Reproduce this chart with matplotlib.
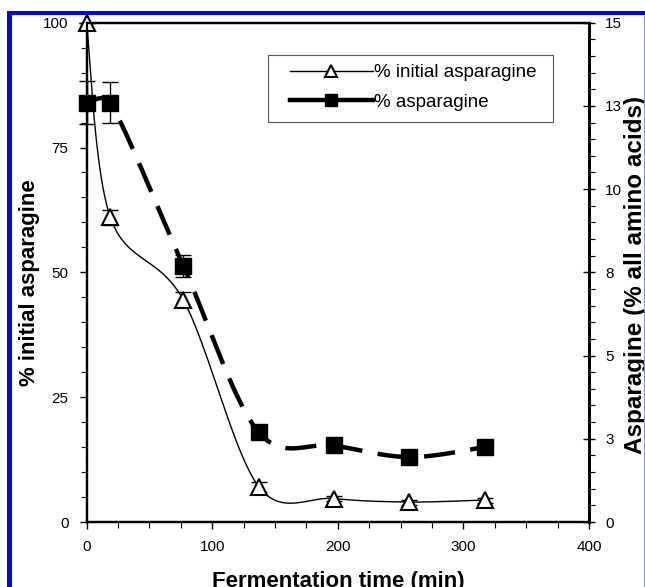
import numpy as np
import matplotlib.pyplot as plt
from matplotlib.lines import Line2D
from matplotlib.patches import Rectangle
from matplotlib.ticker import MultipleLocator, FixedLocator, FixedFormatter

plt.rcParams['font.family'] = ['Liberation Sans', 'DejaVu Sans']

# sampling times during fermentation (min)
time_min = [0, 19, 77, 137, 197, 257, 317]

# asparagine remaining, % of the initial amount (left axis)
initial_pct = [100, 61.0, 44.5, 7.1, 4.7, 4.0, 4.4]
initial_err = [0, 1.5, 1.5, 1.0, 0.5, 0.5, 0.5]

# asparagine as % of all amino acids (right axis)
asn_pct = [12.6, 12.6, 7.7, 2.7, 2.3, 1.95, 2.25]
asn_err = [0.65, 0.62, 0.33, 0.2, 0.15, 0.15, 0.15]

x_ticks = [0, 100, 200, 300, 400]
left_ticks = [0, 25, 50, 75, 100]
right_ticks = [0, 2.5, 5, 7.5, 10, 12.5, 15]
right_tick_labels = ['0', '3', '5', '8', '10', '13', '15']

labels = ['% initial asparagine', '% asparagine']


def smooth(axis, x, y, n=40):
    """Smoothed line through every point: cubic Bezier, tension 1/6,
    control arms capped at half the segment length (worked in screen space)."""
    p = axis.transData.transform(np.column_stack([x, y]).astype(float))
    ext = np.vstack([p[0], p, p[-1]])
    t = np.linspace(0, 1, n)[:, None]
    out = []
    for i in range(len(p) - 1):
        p0, p1, p2, p3 = ext[i], ext[i + 1], ext[i + 2], ext[i + 3]
        d12 = np.hypot(*(p2 - p1))
        d02 = np.hypot(*(p2 - p0))
        d13 = np.hypot(*(p3 - p1))
        f1 = 1 / 6 if d02 / 6 < d12 / 2 else d12 / d02 / 2
        f2 = 1 / 6 if d13 / 6 < d12 / 2 else d12 / d13 / 2
        c1 = p1 + f1 * (p2 - p0)
        c2 = p2 - f2 * (p3 - p1)
        seg = (1 - t) ** 3 * p1 + 3 * (1 - t) ** 2 * t * c1 + 3 * (1 - t) * t ** 2 * c2 + t ** 3 * p2
        out.append(seg if i == 0 else seg[1:])
    out = axis.transData.inverted().transform(np.vstack(out))
    return out[:, 0], out[:, 1]


W, H = 645, 587
fig = plt.figure(figsize=(W / 100, H / 100), dpi=100)
ax = fig.add_axes([86.5 / W, 65 / H, (589 - 86.5) / W, (522 - 22.7) / H])
ax2 = ax.twinx()

ax.set_xlim(0, 400)
ax.set_ylim(0, 100)
ax2.set_ylim(0, 15)

# % initial asparagine: thin smoothed line, open triangles
sx, sy = smooth(ax, time_min, initial_pct)
ax.plot(sx, sy, color='black', lw=1.0, clip_on=False, zorder=2)
ax.errorbar(time_min, initial_pct, yerr=initial_err, fmt='none', ecolor='black',
            elinewidth=1, capsize=6, capthick=1, clip_on=False, zorder=3)
ax.plot(time_min, initial_pct, ls='none', marker='^', ms=12, mfc='white',
        mec='black', mew=1.5, clip_on=False, zorder=4)

# % asparagine: thick dashed smoothed line, filled squares
qx, qy = smooth(ax2, time_min, asn_pct)
ax2.plot(qx, qy, color='black', lw=3.2, dashes=(7, 3.5), clip_on=False, zorder=2)
ax2.errorbar(time_min, asn_pct, yerr=asn_err, fmt='none', ecolor='black',
             elinewidth=1, capsize=6, capthick=1, clip_on=False, zorder=3)
ax2.plot(time_min, asn_pct, ls='none', marker='s', ms=12, mfc='black',
         mec='black', clip_on=False, zorder=4)

ax.xaxis.set_major_locator(FixedLocator(x_ticks))
ax.xaxis.set_minor_locator(MultipleLocator(25))
ax.yaxis.set_major_locator(FixedLocator(left_ticks))
ax.yaxis.set_minor_locator(MultipleLocator(5))
ax2.yaxis.set_major_locator(FixedLocator(right_ticks))
ax2.yaxis.set_major_formatter(FixedFormatter(right_tick_labels))
ax2.yaxis.set_minor_locator(MultipleLocator(0.5))

ax.tick_params(axis='both', which='major', direction='out', length=5, width=1,
               pad=8, labelsize=11)
ax.tick_params(axis='both', which='minor', direction='out', length=4, width=0.8)
ax2.tick_params(axis='y', which='major', direction='inout', length=9, width=1,
                pad=7, labelsize=11)
ax2.tick_params(axis='y', which='minor', direction='out', length=4, width=0.8)

for a in (ax, ax2):
    for side in ('left', 'bottom', 'top'):
        a.spines[side].set_linewidth(1.6)
    a.spines['right'].set_linewidth(2.0)

ax.set_xlabel('Fermentation time (min)', fontsize=16, fontweight='bold')
ax.xaxis.set_label_coords(0.5005, -0.12)
ax.xaxis.label.set_va('center')
ax.set_ylabel('% initial asparagine', fontsize=16, fontweight='bold')
ax.yaxis.set_label_coords(-0.114, 0.479)
ax.yaxis.label.set_va('center')
ax2.set_ylabel('Asparagine (% all amino acids)', fontsize=17.5, fontweight='bold')
ax2.yaxis.set_label_coords(1.092, 0.495)
ax2.yaxis.label.set_va('center')

# legend box drawn separately so its padding can differ left/right and top/bottom
fig.add_artist(Rectangle((268 / W, 1 - 122 / H), (553 - 268) / W, 67 / H,
                         transform=fig.transFigure, facecolor='white',
                         edgecolor='#555555', lw=0.8, zorder=5))
h1 = Line2D([], [], color='black', lw=1, marker='^', ms=8, mfc='white',
            mec='black', mew=1.5)
h2 = Line2D([], [], color='black', lw=3.2, marker='s', ms=8, mfc='black', mec='black')
leg = fig.legend([h1, h2], labels, loc='upper left',
                 bbox_to_anchor=(290 / W, 1 - 64 / H), bbox_transform=fig.transFigure,
                 borderaxespad=0, borderpad=0, frameon=False,
                 fontsize=13.5, handlelength=4.4, handletextpad=0.1,
                 labelspacing=0.68)
leg.set_zorder(6)

# window frame around the chart
fig.add_artist(Rectangle((0, (H - 11) / H), 1, 11 / H, transform=fig.transFigure,
                         facecolor='white', edgecolor='none', zorder=10))
fig.add_artist(Rectangle((7 / W, (H - 15) / H), 1 - 7 / W, 4 / H, transform=fig.transFigure,
                         facecolor='#0000ff', edgecolor='none', zorder=11))
fig.add_artist(Rectangle((7 / W, 0), 5 / W, (H - 11) / H, transform=fig.transFigure,
                         facecolor='#0000ff', edgecolor='none', zorder=11))
fig.add_artist(Rectangle((643.5 / W, 0), 1.5 / W, (H - 15) / H, transform=fig.transFigure,
                         facecolor='#8c8cff', edgecolor='none', zorder=11))

fig.savefig('out.png', dpi=100)
